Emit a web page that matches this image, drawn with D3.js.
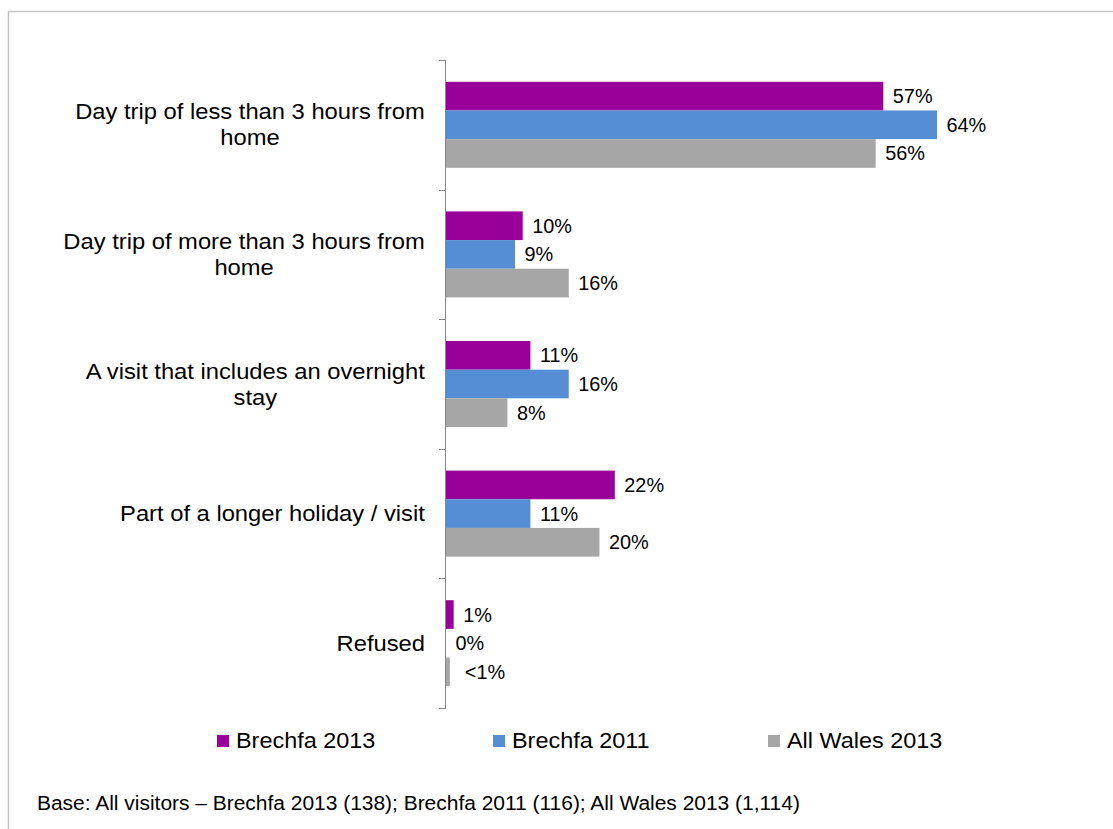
<!DOCTYPE html>
<html>
<head>
<meta charset="utf-8">
<script src="https://cdn.jsdelivr.net/npm/d3@7"></script>
<style>
  html, body { margin: 0; padding: 0; background: #fff; }
  svg { display: block; font-family: "Liberation Sans", Arial, sans-serif; }
</style>
</head>
<body>
<svg id="chart" width="1113" height="829"></svg>
<script>
// Visit type by survey
const categories = [
  ["Day trip of less than 3 hours from", "home"],
  ["Day trip of more than 3 hours from", "home"],
  ["A visit that includes an overnight", "stay"],
  ["Part of a longer holiday / visit"],
  ["Refused"]
];
const seriesNames = ["Brechfa 2013", "Brechfa 2011", "All Wales 2013"];
const seriesColors = ["#990099", "#558ED5", "#A6A6A6"];
const brechfa2013 = [57, 10, 11, 22, 1];
const brechfa2011 = [64, 9, 16, 11, 0];
const allWales2013 = [56, 16, 8, 20, 0.5];
const brechfa2013Labels = ["57%", "10%", "11%", "22%", "1%"];
const brechfa2011Labels = ["64%", "9%", "16%", "11%", "0%"];
const allWales2013Labels = ["56%", "16%", "8%", "20%", "<1%"];
const footnote = "Base: All visitors \u2013 Brechfa 2013 (138); Brechfa 2011 (116); All Wales 2013 (1,114)";

const values = [brechfa2013, brechfa2011, allWales2013];
const labels = [brechfa2013Labels, brechfa2011Labels, allWales2013Labels];

const svg = d3.select("#chart");

// outer frame (top and left edges)
svg.append("path")
  .attr("d", "M8.5,829 V11.5 H1113")
  .attr("fill", "none")
  .attr("stroke", "#c4c4c4")
  .attr("stroke-width", 1.5);

const catIdx = d3.range(categories.length);
const y = d3.scaleBand().domain(catIdx).range([60, 708]).padding(0);
const groupPad = 21.8;
const ySeries = d3.scaleBand().domain(d3.range(seriesNames.length))
  .range([groupPad, y.bandwidth() - groupPad]).padding(0);
const x = d3.scaleLinear().domain([0, 64]).range([446, 937]);

// horizontally stretched text helper
function stretchedText(parent, tx, ty, str, size, sx, anchor) {
  const g = parent.append("g").attr("transform", `translate(${tx},${ty}) scale(${sx},1)`);
  g.append("text")
    .attr("font-size", size)
    .attr("fill", "#000")
    .attr("text-anchor", anchor || "start")
    .text(str);
  return g;
}

// bars
const barsG = svg.append("g");
values.forEach((vals, s) => {
  barsG.selectAll(null)
    .data(catIdx)
    .join("rect")
    .attr("x", x(0))
    .attr("y", i => y(i) + ySeries(s))
    .attr("width", i => x(vals[i]) - x(0))
    .attr("height", ySeries.bandwidth())
    .attr("fill", seriesColors[s]);
});

// value labels (a "<" label sits a little further out)
const valG = svg.append("g");
values.forEach((vals, s) => {
  catIdx.forEach(i => {
    const cy = y(i) + ySeries(s) + ySeries.bandwidth() / 2;
    const lab = labels[s][i];
    const gap = lab.startsWith("<") ? 15 : 9.5;
    stretchedText(valG, x(vals[i]) + gap, cy + 7, lab, 19.5, 1.02, "start");
  });
});

// category axis: vertical line with ticks at band boundaries
const axisG = svg.append("g");
const tickPos = catIdx.map(i => y(i)).concat([y.range()[1]]);
axisG.append("line")
  .attr("x1", x(0) - 0.5).attr("x2", x(0) - 0.5)
  .attr("y1", tickPos[0]).attr("y2", tickPos[tickPos.length - 1])
  .attr("stroke", "#868686").attr("stroke-width", 1);
axisG.selectAll(null).data(tickPos).join("line")
  .attr("x1", x(0) - 7).attr("x2", x(0))
  .attr("y1", d => Math.round(d) + 0.5).attr("y2", d => Math.round(d) + 0.5)
  .attr("stroke", "#868686").attr("stroke-width", 1);

// category labels: block right-aligned, lines centred within block
const catSize = 22, catSx = 1.08, lineH = 26, rightEdge = 425;
const measure = svg.append("text").attr("font-size", catSize).attr("opacity", 0);
categories.forEach((lines, i) => {
  const widths = lines.map(l => { measure.text(l); return measure.node().getComputedTextLength() * catSx; });
  const maxW = d3.max(widths);
  const cx = rightEdge - maxW / 2;
  const cy = y(i) + y.bandwidth() / 2;
  lines.forEach((l, k) => {
    const by = cy + (k - (lines.length - 1) / 2) * lineH + 7.5;
    stretchedText(svg, cx, by, l, catSize, catSx, "middle");
  });
});
measure.remove();

// legend
const legendX = [217, 493, 768];
seriesNames.forEach((name, s) => {
  svg.append("rect")
    .attr("x", legendX[s]).attr("y", 735)
    .attr("width", 12).attr("height", 12)
    .attr("fill", seriesColors[s]);
  stretchedText(svg, legendX[s] + 19, 748, name, 22, 1.065, "start");
});

// footnote
stretchedText(svg, 37, 810, footnote, 20, 1.048, "start");
</script>
</body>
</html>
